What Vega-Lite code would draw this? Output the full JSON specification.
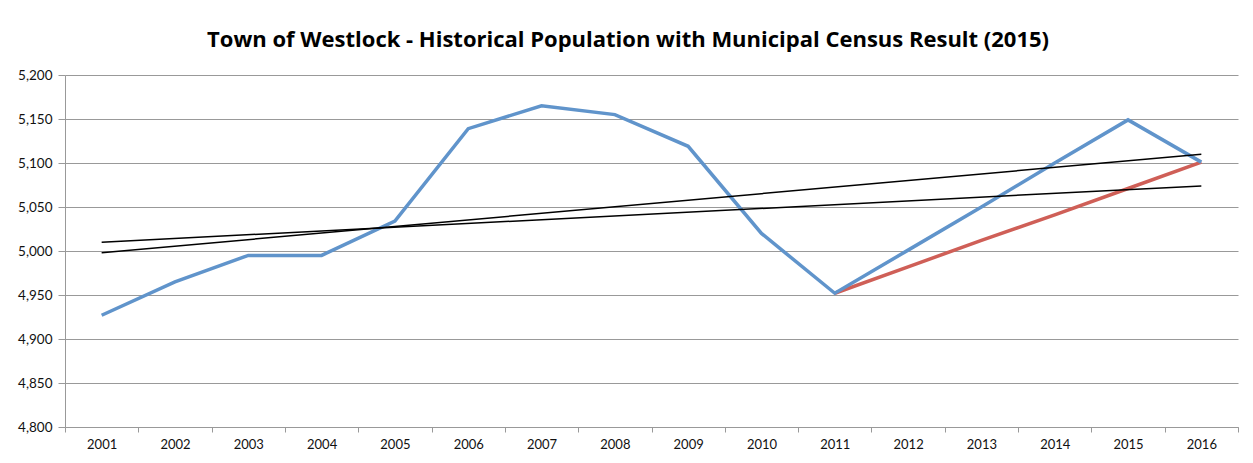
{
  "$schema": "https://vega.github.io/schema/vega-lite/v6.json",
  "autosize": {"type": "none"},
  "padding": {"left": 65, "top": 75, "right": 15, "bottom": 36},
  "width": 1173,
  "height": 352,
  "background": "white",
  "title": {
    "text": "Town of Westlock - Historical Population with Municipal Census Result (2015)",
    "font": "Open Sans",
    "fontSize": 22,
    "fontWeight": "bold",
    "color": "#000000",
    "anchor": "middle",
    "frame": "bounds",
    "offset": 16
  },
  "datasets": {
    "pop": [
      {"year": "2001", "series": "Population", "value": 4927},
      {"year": "2002", "series": "Population", "value": 4965},
      {"year": "2003", "series": "Population", "value": 4995},
      {"year": "2004", "series": "Population", "value": 4995},
      {"year": "2005", "series": "Population", "value": 5034},
      {"year": "2006", "series": "Population", "value": 5139},
      {"year": "2007", "series": "Population", "value": 5165},
      {"year": "2008", "series": "Population", "value": 5155},
      {"year": "2009", "series": "Population", "value": 5119},
      {"year": "2010", "series": "Population", "value": 5020},
      {"year": "2011", "series": "Population", "value": 4952},
      {"year": "2012", "series": "Population", "value": 5001},
      {"year": "2013", "series": "Population", "value": 5050},
      {"year": "2014", "series": "Population", "value": 5100},
      {"year": "2015", "series": "Population", "value": 5149},
      {"year": "2016", "series": "Population", "value": 5101},
      {"year": "2011", "series": "Census", "value": 4952},
      {"year": "2012", "series": "Census", "value": 4982},
      {"year": "2013", "series": "Census", "value": 5012},
      {"year": "2014", "series": "Census", "value": 5041},
      {"year": "2015", "series": "Census", "value": 5071},
      {"year": "2016", "series": "Census", "value": 5101},
      {"year": "2001", "series": "Trend A", "value": 4998},
      {"year": "2016", "series": "Trend A", "value": 5110},
      {"year": "2001", "series": "Trend B", "value": 5010},
      {"year": "2016", "series": "Trend B", "value": 5074}
    ]
  },
  "data": {"name": "pop"},
  "encoding": {
    "x": {
      "field": "year",
      "type": "ordinal",
      "scale": {"type": "band", "paddingInner": 0, "paddingOuter": 0, "domain": ["2001","2002","2003","2004","2005","2006","2007","2008","2009","2010","2011","2012","2013","2014","2015","2016"]},
      "axis": {
        "title": null,
        "labelAngle": 0,
        "tickBand": "extent",
        "tickSize": 5,
        "tickColor": "#999999",
        "domainColor": "#999999",
        "labelFont": "Lato",
        "labelFontSize": 13,
        "labelColor": "#111111",
        "labelPadding": 6,
        "grid": false
      }
    },
    "y": {
      "field": "value",
      "type": "quantitative",
      "scale": {"domain": [4800, 5200], "nice": false, "zero": false},
      "axis": {
        "title": null,
        "values": [4800, 4850, 4900, 4950, 5000, 5050, 5100, 5150, 5200],
        "format": ",d",
        "grid": true,
        "gridColor": "#999999",
        "gridWidth": 1,
        "tickSize": 7,
        "tickColor": "#999999",
        "domainColor": "#999999",
        "labelFont": "Lato",
        "labelFontSize": 13.5,
        "labelColor": "#111111",
        "labelPadding": 6
      }
    }
  },
  "layer": [
    {
      "transform": [{"filter": "datum.series === 'Census'"}],
      "mark": {"type": "line", "color": "#CF5F57", "strokeWidth": 3.5}
    },
    {
      "transform": [{"filter": "datum.series === 'Population'"}],
      "mark": {"type": "line", "color": "#6094CB", "strokeWidth": 3.5}
    },
    {
      "transform": [{"filter": "datum.series === 'Trend A'"}],
      "mark": {"type": "line", "color": "#000000", "strokeWidth": 1.5}
    },
    {
      "transform": [{"filter": "datum.series === 'Trend B'"}],
      "mark": {"type": "line", "color": "#000000", "strokeWidth": 1.5}
    }
  ],
  "config": {"view": {"stroke": null}}
}
